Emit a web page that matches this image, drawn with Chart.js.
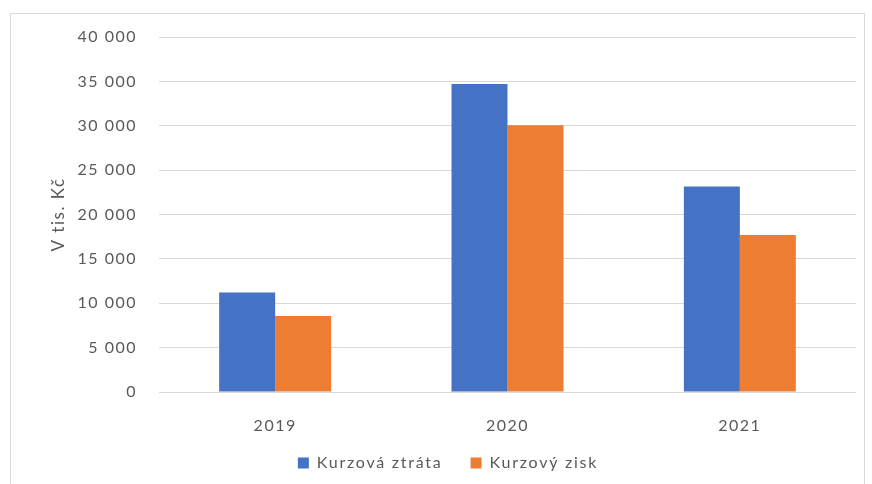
<!DOCTYPE html>
<html>
<head>
<meta charset="utf-8">
<script src="https://cdn.jsdelivr.net/npm/chart.js@4"></script>
<style>
  html, body { margin: 0; padding: 0; background: #fff; }
  #wrap { position: relative; width: 872px; height: 484px; }
  #frame { position: absolute; left: 10px; top: 13px; width: 855px; height: 480px; border: 1px solid #d9d9d9; box-sizing: border-box; }
  canvas { position: absolute; left: 0; top: 0; }
</style>
</head>
<body>
<div id="wrap">
  <div id="frame"></div>
  <canvas id="chart" width="872" height="484"></canvas>
</div>
<script>
const years = ["2019", "2020", "2021"];
const ztrata = [11200, 34700, 23150];
const zisk = [8550, 30050, 17700];
const yTicks = [0, 5000, 10000, 15000, 20000, 25000, 30000, 35000, 40000];

const grey = "#595959";
const fontFam = "Lato, 'Open Sans', sans-serif";

// fmt 40000 -> "40 000"
function fmt(v) {
  return String(v).replace(/\B(?=(\d{3})+(?!\d))/g, " ");
}

// wider letter spacing like the original, a bit more in the legend;
// legend keeps a wide gap between items but a compact height
const spacing = {
  id: "spacing",
  beforeUpdate(chart) {
    const ctx = chart.ctx;
    ctx.letterSpacing = "1.5px";
    const lg = chart.legend;
    if (lg && !lg._spaced) {
      lg._spaced = true;
      const fit = lg.fit.bind(lg), draw = lg.draw.bind(lg);
      lg.fit = function () {
        ctx.letterSpacing = "1.75px"; fit(); ctx.letterSpacing = "1.5px";
        lg.height = 36;
      };
      lg.draw = function () {
        const top = lg.top;
        lg.top = top - 18;
        ctx.letterSpacing = "1.75px"; draw(); ctx.letterSpacing = "1.5px";
        lg.top = top;
      };
    }
  },
  beforeDraw(chart) { chart.ctx.letterSpacing = "1.5px"; }
};

new Chart(document.getElementById("chart"), {
  type: "bar",
  data: {
    labels: years,
    datasets: [
      { label: "Kurzová ztráta", data: ztrata, backgroundColor: "#4472C4" },
      { label: "Kurzový zisk", data: zisk, backgroundColor: "#ED7D31" }
    ]
  },
  options: {
    responsive: false,
    animation: false,
    layout: { padding: { left: 40, right: 16, top: 37, bottom: 3 } },
    datasets: { bar: { categoryPercentage: 0.482, barPercentage: 1 } },
    scales: {
      x: {
        grid: { display: false },
        border: { display: false },
        ticks: { color: grey, font: { family: fontFam, size: 16 }, padding: 16 },
        afterFit: s => { s.height = 53; }
      },
      y: {
        min: 0, max: 40000,
        afterBuildTicks: s => { s.ticks = yTicks.map(v => ({ value: v })); },
        grid: { color: "#d9d9d9", lineWidth: 1, drawTicks: false },
        border: { display: false },
        ticks: { color: grey, font: { family: fontFam, size: 16 }, padding: 22, callback: v => fmt(v) },
        title: { display: true, text: "V tis. Kč", color: grey, font: { family: fontFam, size: 17 }, padding: { top: 8, bottom: 0 } },
        afterFit: s => { s.width = 119; }
      }
    },
    plugins: {
      legend: {
        position: "bottom",
        labels: { color: grey, font: { family: fontFam, size: 16 }, boxWidth: 11, boxHeight: 11, padding: 28 }
      },
      tooltip: { enabled: false }
    }
  },
  plugins: [spacing]
});
</script>
</body>
</html>
